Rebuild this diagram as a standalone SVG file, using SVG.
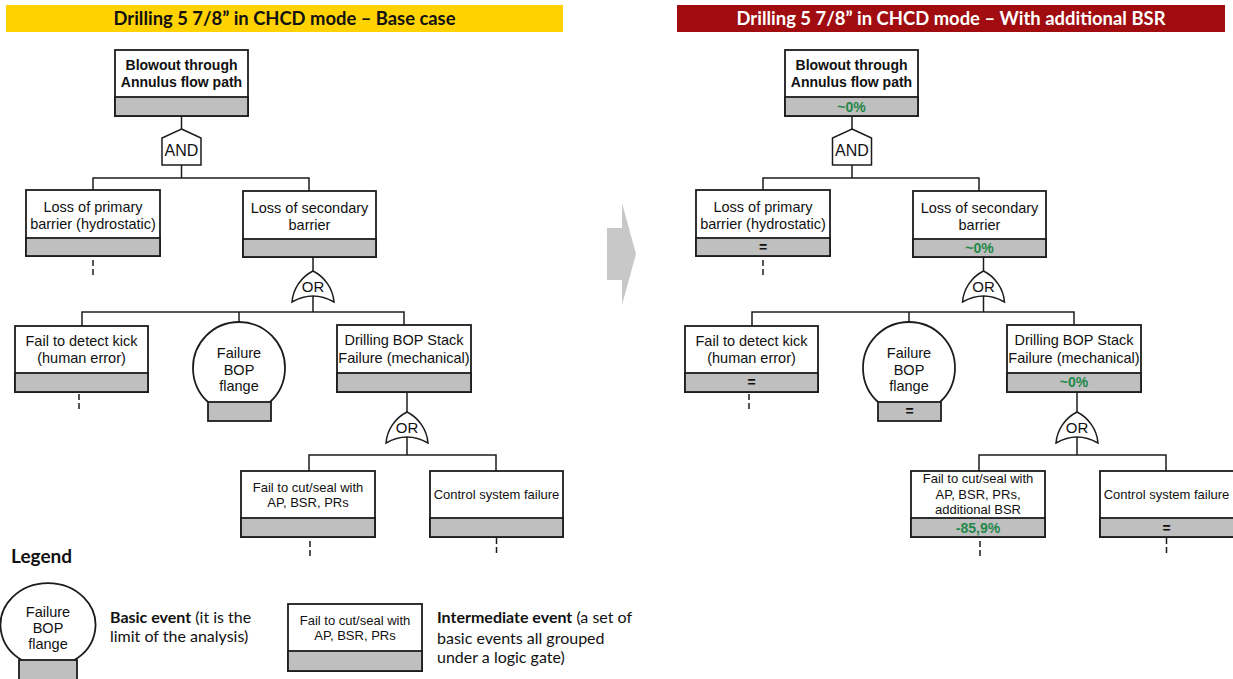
<svg xmlns="http://www.w3.org/2000/svg" width="1233" height="679" viewBox="0 0 1233 679">
  <style>
    .bg { fill: #ffffff; }
    .box { fill: #ffffff; stroke: #1c1c1c; stroke-width: 1.8; }
    .val { fill: #bfbfbf; stroke: #1c1c1c; stroke-width: 1.8; }
    .gate { fill: #ffffff; stroke: #1c1c1c; stroke-width: 1.5; }
    .wire { fill: none; stroke: #1c1c1c; stroke-width: 1.5; }
    .dash { fill: none; stroke: #1c1c1c; stroke-width: 1.5; stroke-dasharray: 6 3; }
    .t { font-family: "Liberation Sans", Arial, sans-serif; font-size: 14.5px; fill: #111111; text-anchor: middle; }
    .tb { font-weight: bold; font-size: 14px; }
    .ts { font-size: 13px; }
    .g { font-family: "Liberation Sans", Arial, sans-serif; fill: #111111; text-anchor: middle; }
    .v { font-family: "Liberation Sans", Arial, sans-serif; font-size: 14px; font-weight: bold; text-anchor: middle; }
    .green { fill: #23884a; }
    .black { fill: #111111; }
    .title { font-family: Lato, "Open Sans", sans-serif; font-size: 18px; font-weight: bold; text-anchor: middle; }
    .leg { font-family: Lato, "Open Sans", sans-serif; font-size: 16px; fill: #111111; }
    .leghead { font-family: Lato, "Open Sans", sans-serif; font-size: 19px; font-weight: bold; fill: #111111; }
  </style>
  <defs>
    <!-- AND gate, origin at apex -->
    <g id="andGate">
      <path class="gate" d="M0,0 L19.5,9 L19.5,36 L-19.5,36 L-19.5,9 Z"/>
      <text class="g" x="0" y="27" font-size="16">AND</text>
    </g>
    <!-- OR gate, origin at apex -->
    <g id="orGate">
      <path class="gate" d="M-21,31 C-20,18 -12,6 0,0 C12,6 20,18 21,31 Q0,19 -21,31 Z"/>
      <text class="g" x="0" y="21" font-size="15">OR</text>
    </g>
  </defs>

  <rect class="bg" x="0" y="0" width="1233" height="679"/>

  <!-- panel headers -->
  <g id="header-base">
    <rect x="6" y="5" width="557" height="27" fill="#ffd200"/>
    <text class="title" x="284.5" y="25" fill="#111111" textLength="342" lengthAdjust="spacingAndGlyphs">Drilling 5 7/8” in CHCD mode – Base case</text>
  </g>
  <g id="header-bsr">
    <rect x="677" y="5" width="548" height="27" fill="#a00c10"/>
    <text class="title" x="951" y="25" fill="#ffffff" textLength="429" lengthAdjust="spacingAndGlyphs">Drilling 5 7/8” in CHCD mode – With additional BSR</text>
  </g>

  <!-- transition arrow between panels -->
  <polygon id="transition-arrow" points="607,228 622,228 622,203 636,254 622,305 622,280 607,280" fill="#c8c8c8"/>

  <!-- ===== Base case tree ===== -->
  <g id="connectors-base">
    <line class="wire" x1="181.5" y1="116" x2="181.5" y2="129"/>
    <polyline class="wire" points="93,190 93,178 309,178 309,191"/>
    <line class="wire" x1="181.5" y1="165" x2="181.5" y2="178"/>
    <line class="wire" x1="313" y1="257" x2="313" y2="271"/>
    <line class="wire" x1="313" y1="296" x2="313" y2="312"/>
    <polyline class="wire" points="82,326 82,312 404,312 404,325"/>
    <line class="wire" x1="239" y1="312" x2="239" y2="322"/>
    <line class="wire" x1="407" y1="392" x2="407" y2="412"/>
    <line class="wire" x1="407" y1="437" x2="407" y2="455"/>
    <polyline class="wire" points="309,471 309,455 496,455 496,471"/>
    <line class="dash" x1="93" y1="260" x2="93" y2="275"/>
    <line class="dash" x1="79" y1="394" x2="79" y2="409"/>
    <line class="dash" x1="310" y1="541" x2="310" y2="556"/>
    <line class="dash" x1="496.5" y1="538" x2="496.5" y2="553"/>
  </g>

  <g id="base-top">
    <rect class="box" x="115" y="50" width="133" height="66"/>
    <rect class="val" x="115" y="97" width="133" height="19"/>
    <text class="t tb" x="181.5" y="70">Blowout through</text>
    <text class="t tb" x="181.5" y="87">Annulus flow path</text>
  </g>
  <use id="base-and" href="#andGate" x="181.5" y="129"/>
  <g id="base-primary">
    <rect class="box" x="26" y="190" width="134" height="66"/>
    <rect class="val" x="26" y="238" width="134" height="18"/>
    <text class="t" x="93" y="212">Loss of primary</text>
    <text class="t" x="93" y="229">barrier (hydrostatic)</text>
  </g>
  <g id="base-secondary">
    <rect class="box" x="243" y="191" width="133" height="66"/>
    <rect class="val" x="243" y="239" width="133" height="18"/>
    <text class="t" x="309.5" y="213">Loss of secondary</text>
    <text class="t" x="309.5" y="230">barrier</text>
  </g>
  <use id="base-or1" href="#orGate" x="313" y="271"/>
  <g id="base-kick">
    <rect class="box" x="15" y="326" width="133" height="66"/>
    <rect class="val" x="15" y="373" width="133" height="19"/>
    <text class="t" x="81.5" y="346">Fail to detect kick</text>
    <text class="t" x="81.5" y="363">(human error)</text>
  </g>
  <g id="base-flange">
    <path class="box" d="M208,402 A46,46 0 1 1 270,402"/>
    <rect class="val" x="208" y="402" width="63" height="19"/>
    <text class="t" x="239" y="358">Failure</text>
    <text class="t" x="239" y="375">BOP</text>
    <text class="t" x="239" y="391">flange</text>
  </g>
  <g id="base-stack">
    <rect class="box" x="337" y="325" width="134" height="67"/>
    <rect class="val" x="337" y="373" width="134" height="19"/>
    <text class="t" x="404" y="345">Drilling BOP Stack</text>
    <text class="t" x="404" y="363">Failure (mechanical)</text>
  </g>
  <use id="base-or2" href="#orGate" x="407" y="412"/>
  <g id="base-cutseal">
    <rect class="box" x="241" y="471" width="134" height="66"/>
    <rect class="val" x="241" y="518" width="134" height="19"/>
    <text class="t ts" x="308" y="492">Fail to cut/seal with</text>
    <text class="t ts" x="308" y="507">AP, BSR, PRs</text>
  </g>
  <g id="base-control">
    <rect class="box" x="430" y="471" width="133" height="66"/>
    <rect class="val" x="430" y="518" width="133" height="19"/>
    <text class="t ts" x="496.5" y="499">Control system failure</text>
  </g>

  <!-- ===== Additional BSR tree ===== -->
  <g id="connectors-bsr">
    <line class="wire" x1="852" y1="116" x2="852" y2="129"/>
    <polyline class="wire" points="763,190 763,178 979,178 979,191"/>
    <line class="wire" x1="852" y1="165" x2="852" y2="178"/>
    <line class="wire" x1="983.5" y1="257" x2="983.5" y2="271"/>
    <line class="wire" x1="983.5" y1="296" x2="983.5" y2="312"/>
    <polyline class="wire" points="752,326 752,312 1074,312 1074,325"/>
    <line class="wire" x1="909" y1="312" x2="909" y2="322"/>
    <line class="wire" x1="1077" y1="392" x2="1077" y2="412"/>
    <line class="wire" x1="1077" y1="437" x2="1077" y2="455"/>
    <polyline class="wire" points="979,471 979,455 1166,455 1166,471"/>
    <line class="dash" x1="763" y1="260" x2="763" y2="275"/>
    <line class="dash" x1="749" y1="394" x2="749" y2="409"/>
    <line class="dash" x1="980" y1="541" x2="980" y2="556"/>
    <line class="dash" x1="1166.5" y1="538" x2="1166.5" y2="553"/>
  </g>

  <g id="bsr-top">
    <rect class="box" x="785" y="50" width="133" height="66"/>
    <rect class="val" x="785" y="97" width="133" height="19"/>
    <text class="t tb" x="851.5" y="70">Blowout through</text>
    <text class="t tb" x="851.5" y="87">Annulus flow path</text>
    <text class="v green" x="851.5" y="112">~0%</text>
  </g>
  <use id="bsr-and" href="#andGate" x="852" y="129"/>
  <g id="bsr-primary">
    <rect class="box" x="696" y="190" width="134" height="66"/>
    <rect class="val" x="696" y="238" width="134" height="18"/>
    <text class="t" x="763" y="212">Loss of primary</text>
    <text class="t" x="763" y="229">barrier (hydrostatic)</text>
    <text class="v black" x="763" y="252">=</text>
  </g>
  <g id="bsr-secondary">
    <rect class="box" x="913" y="191" width="133" height="66"/>
    <rect class="val" x="913" y="239" width="133" height="18"/>
    <text class="t" x="979.5" y="213">Loss of secondary</text>
    <text class="t" x="979.5" y="230">barrier</text>
    <text class="v green" x="979.5" y="253">~0%</text>
  </g>
  <use id="bsr-or1" href="#orGate" x="983.5" y="271"/>
  <g id="bsr-kick">
    <rect class="box" x="685" y="326" width="133" height="66"/>
    <rect class="val" x="685" y="373" width="133" height="19"/>
    <text class="t" x="751.5" y="346">Fail to detect kick</text>
    <text class="t" x="751.5" y="363">(human error)</text>
    <text class="v black" x="751.5" y="387">=</text>
  </g>
  <g id="bsr-flange">
    <path class="box" d="M878,402 A46,46 0 1 1 940,402"/>
    <rect class="val" x="878" y="402" width="63" height="19"/>
    <text class="t" x="909" y="358">Failure</text>
    <text class="t" x="909" y="375">BOP</text>
    <text class="t" x="909" y="391">flange</text>
    <text class="v black" x="909.5" y="416">=</text>
  </g>
  <g id="bsr-stack">
    <rect class="box" x="1007" y="325" width="134" height="67"/>
    <rect class="val" x="1007" y="373" width="134" height="19"/>
    <text class="t" x="1074" y="345">Drilling BOP Stack</text>
    <text class="t" x="1074" y="363">Failure (mechanical)</text>
    <text class="v green" x="1074" y="387">~0%</text>
  </g>
  <use id="bsr-or2" href="#orGate" x="1077" y="412"/>
  <g id="bsr-cutseal">
    <rect class="box" x="911" y="471" width="134" height="66"/>
    <rect class="val" x="911" y="518" width="134" height="19"/>
    <text class="t ts" x="978" y="483">Fail to cut/seal with</text>
    <text class="t ts" x="978" y="499">AP, BSR, PRs,</text>
    <text class="t ts" x="978" y="514">additional BSR</text>
    <text class="v green" x="978" y="533">-85,9%</text>
  </g>
  <g id="bsr-control">
    <rect class="box" x="1100" y="471" width="134" height="66"/>
    <rect class="val" x="1100" y="518" width="134" height="19"/>
    <text class="t ts" x="1166.5" y="499">Control system failure</text>
    <text class="v black" x="1166.5" y="533">=</text>
  </g>

  <!-- ===== Legend ===== -->
  <g id="legend">
    <text class="leghead" x="11" y="563">Legend</text>
    <g id="legend-basic">
      <path class="box" d="M21.7,660 A47.5,42 0 1 1 74.3,660"/>
      <rect class="val" x="19" y="660" width="58" height="21"/>
      <text class="t" x="48" y="617">Failure</text>
      <text class="t" x="48" y="633">BOP</text>
      <text class="t" x="48" y="649">flange</text>
      <text class="leg" x="110" y="623"><tspan font-weight="bold">Basic event</tspan> (it is the</text>
      <text class="leg" x="110" y="642">limit of the analysis)</text>
    </g>
    <g id="legend-intermediate">
      <rect class="box" x="288" y="604" width="134" height="67"/>
      <rect class="val" x="288" y="651" width="134" height="20"/>
      <text class="t ts" x="355" y="625">Fail to cut/seal with</text>
      <text class="t ts" x="355" y="640">AP, BSR, PRs</text>
      <text class="leg" x="437" y="623"><tspan font-weight="bold">Intermediate event</tspan> (a set of</text>
      <text class="leg" x="437" y="644">basic events all grouped</text>
      <text class="leg" x="437" y="663">under a logic gate)</text>
    </g>
  </g>
</svg>
